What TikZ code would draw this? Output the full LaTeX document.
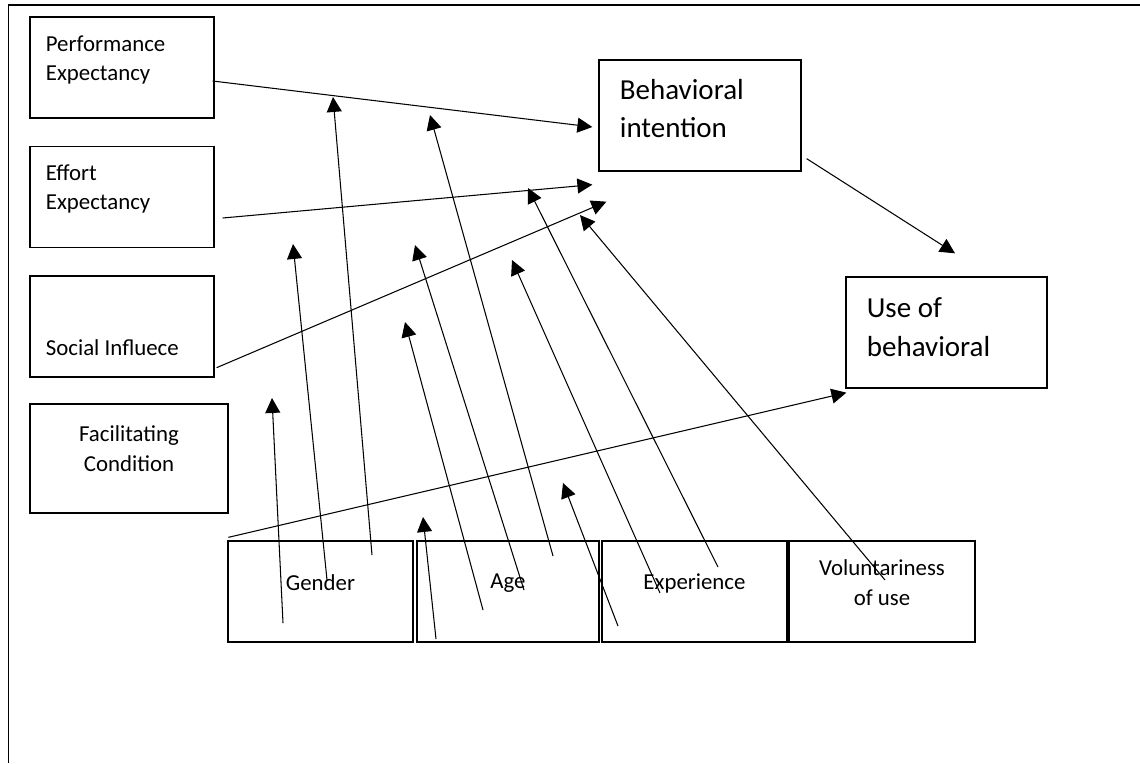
\documentclass[tikz,border=0pt]{standalone}
\usepackage{fontspec}
\setmainfont{Carlito}
\usetikzlibrary{arrows.meta}
\tikzset{>={Triangle[length=8.5pt,width=8.5pt]}}
\tikzset{box/.style={draw,line width=0.75pt,inner sep=0},
  txt/.style={font=\fontsize{13}{17}\selectfont,inner sep=0},
  bigtxt/.style={font=\fontsize{16.5}{22}\selectfont,inner sep=0,align=left,anchor=west}}

\begin{document}
\begin{tikzpicture}[line width=0.6pt]
  \useasboundingbox (0,0) rectangle (22.8,-15.26);
  \draw[line width=0.8pt] (22.8,-0.1) -- (0.17,-0.1) -- (0.17,-15.26);
  % constructs on the left
  \foreach\N/\Y in {pe/-1.35,ee/-3.94,si/-6.53} {%
    \node[box,minimum width=3.68cm,minimum height=2.02cm] (\N) at (2.44,\Y) {};
  }
  \node[box,minimum width=3.96cm,minimum height=2.18cm] (fc) at (2.58,-9.17) {};
  \node[txt,align=left,anchor=west,xshift=0.32cm,yshift=0.15cm] (pe-t) at (pe.west) {Performance\\Expectancy};
  \node[txt,align=left,anchor=west,xshift=0.32cm,yshift=0.16cm] (ee-t) at (ee.west) {Effort\\Expectancy};
  \node[txt,anchor=west,xshift=0.32cm,yshift=-0.43cm] (si-t) at (si.west) {Social Influece};
  \node[txt,align=center,yshift=0.19cm] (fc-t) at (fc) {Facilitating\\Condition};
  % intention and use
  \node[box,minimum width=4.04cm,minimum height=2.22cm] (bi) at (14.0,-2.31) {};
  \node[box,minimum width=4.02cm,minimum height=2.22cm] (ub) at (18.93,-6.65) {};
  \node[bigtxt,xshift=0.42cm,yshift=0.14cm] (bi-t) at (bi.west) {Behavioral\\intention};
  \node[bigtxt,xshift=0.42cm,yshift=0.11cm] (ub-t) at (ub.west) {Use of\\behavioral};
  % moderators
  \foreach\N/\X/\W/\T in {ge/6.41/3.70/Gender,ag/10.16/3.64/Age,ex/13.89/3.70/Experience,vo/17.64/3.72/{Voluntariness\\of use}} {%
    \node[box,minimum width=\W cm,minimum height=2.02cm] (\N) at (\X,-11.83) {};
    \node[txt,align=center,yshift=0.17cm] (\N-t) at (\N) {\T};
  }
  \draw[->] ([shift={(-0.04,-0.27)}]pe.east) -- ([shift={(-0.12,-0.23)}]bi.west);
  \draw[->] ([shift={(0.16,-0.42)}]ee.east) -- ([shift={(-0.12,-0.26)}]bi.south west);
  \draw[->] ([shift={(0.04,0.20)}]si.south east) -- ([shift={(0.16,-0.60)}]bi.south west);
  \draw[->] ([shift={(0.10,0.26)}]bi.south east) -- ([shift={(0.17,0.46)}]ub.north);
  \draw[->] ([shift={(0.02,0.06)}]ge.north west) -- ([shift={(0.02,-0.08)}]ub.south west);
  % loose arrow tips
  \foreach\C/\P in {a/{5.44,-7.96},b/{5.86,-4.88},c/{6.66,-1.94},d/{8.46,-10.34},e/{8.10,-6.44},f/{8.30,-4.90},g/{8.60,-2.30},h/{11.26,-9.66},i/{10.24,-5.20},j/{10.56,-3.76},k/{11.60,-4.30}} {%
    \coordinate (\C) at (\P);
  }
  \foreach\N/\dx/\dy/\C in {ge/-0.75/-0.63/a,ge/0.13/0.23/b,ge/1.03/0.73/c,ag/-1.44/-0.95/d,ag/-0.50/-0.37/e,ag/0.32/0.03/f,ag/0.90/0.71/g,ex/-1.53/-0.69/h,ex/-0.69/-0.03/i,ex/0.47/0.49/j,vo/0.06/0.23/k} {%
    \draw[->] ([shift={(\dx,\dy)}]\N.center) -- (\C);
  }
\end{tikzpicture}
\end{document}
